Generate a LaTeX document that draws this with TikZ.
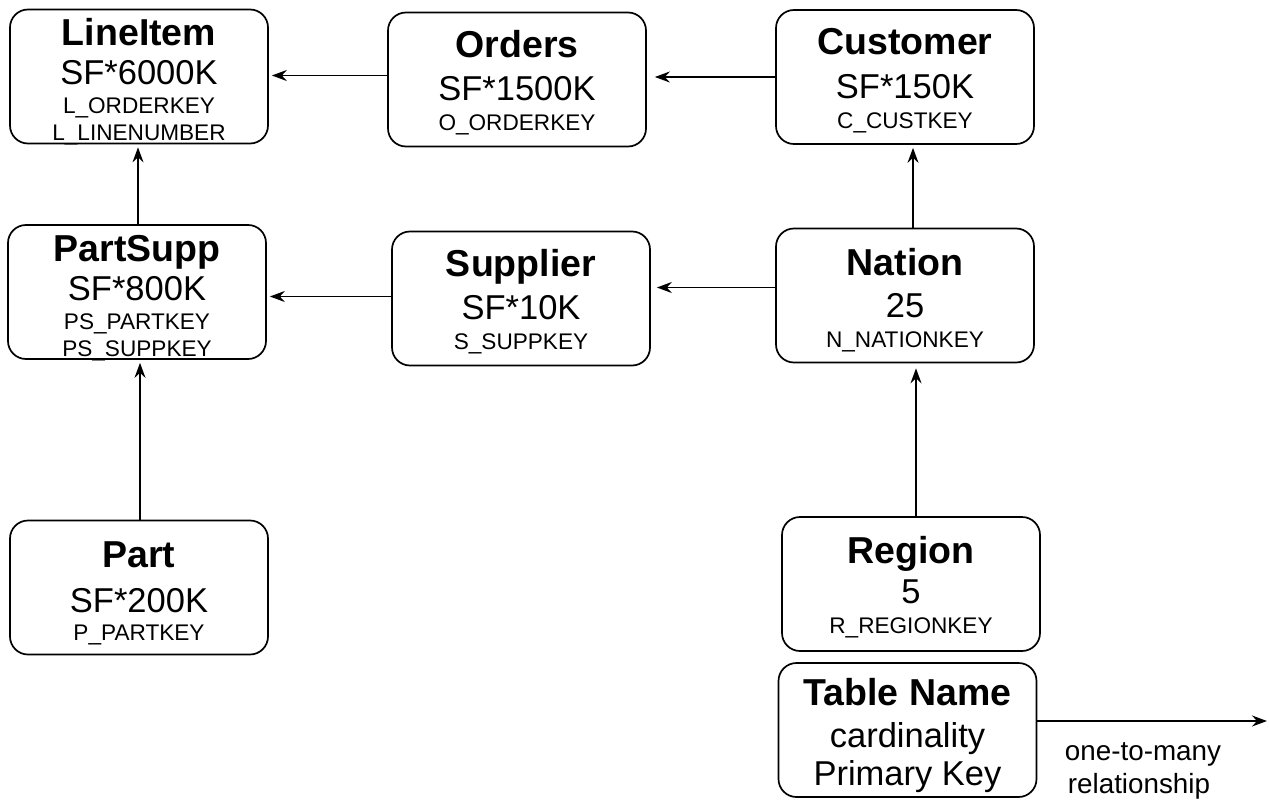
\documentclass[tikz,border=0pt]{standalone}
\usepackage{fontspec}
\setmainfont{Liberation Sans}
\usetikzlibrary{arrows.meta}

\begin{document}
\begin{tikzpicture}[x=1pt,y=-1pt,
	tbl/.style={draw, line width=1.7pt, rounded corners=18pt, minimum width=258pt, minimum height=134pt, inner sep=0pt},
	ttl/.style={anchor=base, inner sep=0pt, font=\fontsize{37.5}{42}\selectfont\bfseries},
	card/.style={anchor=base, inner sep=0pt, font=\fontsize{34.5}{39}\selectfont},
	pk/.style={anchor=base, inner sep=0pt, font=\fontsize{22.6}{26}\selectfont},
	note/.style={anchor=base, inner sep=0pt, font=\fontsize{27.8}{32}\selectfont},
	rel/.style={-{Stealth[length=15pt,width=11pt,inset=5pt]}, line width=1.8pt, shorten >=3pt}]
	\useasboundingbox (0,0) rectangle (1269,800);
	
	%Shape: Tables
	\node[tbl] (lineitem) at (139,76.5) {};
	\node[tbl] (orders) at (517,79.5) {};
	\node[tbl] (customer) at (905,77) {};
	\node[tbl] (partsupp) at (137,292) {};
	\node[tbl] (supplier) at (521,298.5) {};
	\node[tbl] (nation) at (905,295.5) {};
	\node[tbl] (part) at (139,587.5) {};
	\node[tbl] (region) at (911,584) {};
	\node[tbl] (legend) at (907.5,730) {};
	
	% Text Node
	\node[ttl, yshift=31pt] (lineitem-t) at (lineitem) {LineItem};
	\node[card, yshift=-8pt] (lineitem-c) at (lineitem) {SF*6000K};
	\node[pk, yshift=-37pt] (lineitem-k1) at (lineitem) {L\_ORDERKEY};
	\node[pk, yshift=-64pt] (lineitem-k2) at (lineitem) {L\_LINENUMBER};
	% Text Node
	\node[ttl, yshift=22pt] (orders-t) at (orders) {Orders};
	\node[card, yshift=-20.5pt] (orders-c) at (orders) {SF*1500K};
	\node[pk, yshift=-50.5pt] (orders-k) at (orders) {O\_ORDERKEY};
	% Text Node
	\node[ttl, yshift=22pt] (customer-t) at (customer) {Customer};
	\node[card, yshift=-21pt] (customer-c) at (customer) {SF*150K};
	\node[pk, yshift=-51pt] (customer-k) at (customer) {C\_CUSTKEY};
	% Text Node
	\node[ttl, yshift=31pt] (partsupp-t) at (partsupp) {PartSupp};
	\node[card, yshift=-8pt] (partsupp-c) at (partsupp) {SF*800K};
	\node[pk, yshift=-37pt] (partsupp-k1) at (partsupp) {PS\_PARTKEY};
	\node[pk, yshift=-64pt] (partsupp-k2) at (partsupp) {PS\_SUPPKEY};
	% Text Node
	\node[ttl, yshift=22pt] (supplier-t) at (supplier) {Supplier};
	\node[card, yshift=-21pt] (supplier-c) at (supplier) {SF*10K};
	\node[pk, yshift=-51pt] (supplier-k) at (supplier) {S\_SUPPKEY};
	% Text Node
	\node[ttl, yshift=20.5pt] (nation-t) at (nation) {Nation};
	\node[card, yshift=-21.5pt] (nation-c) at (nation) {25};
	\node[pk, yshift=-51.5pt] (nation-k) at (nation) {N\_NATIONKEY};
	% Text Node
	\node[ttl, yshift=20.5pt] (part-t) at (part) {Part};
	\node[card, yshift=-24.5pt] (part-c) at (part) {SF*200K};
	\node[pk, yshift=-52.5pt] (part-k) at (part) {P\_PARTKEY};
	% Text Node
	\node[ttl, yshift=21pt] (region-t) at (region) {Region};
	\node[card, yshift=-19pt] (region-c) at (region) {5};
	\node[pk, yshift=-49pt] (region-k) at (region) {R\_REGIONKEY};
	% Text Node
	\node[ttl, yshift=25pt] (legend-t) at (legend) {Table Name};
	\node[card, yshift=-17pt] (legend-c) at (legend) {cardinality};
	\node[card, yshift=-55pt] (legend-k) at (legend) {Primary Key};
	
	%Straight Lines
	\draw[rel] ([yshift=4pt]orders.west) -- ([yshift=4pt]orders.west -| lineitem.east);
	\draw[rel, shorten >=8pt] (customer.west) -- (customer.west -| orders.east);
	\draw[rel] ([yshift=2pt]supplier.west) -- ([yshift=2pt]supplier.west -| partsupp.east);
	\draw[rel, shorten >=6pt] ([yshift=8pt]nation.west) -- ([yshift=8pt]nation.west -| supplier.east);
	\draw[rel] ([xshift=1pt]partsupp.north) -- ([xshift=1pt]partsupp.north |- lineitem.south);
	\draw[rel] ([xshift=8pt]nation.north) -- ([xshift=8pt]nation.north |- customer.south);
	\draw[rel] ([xshift=1pt]part.north) -- ([xshift=1pt]part.north |- partsupp.south);
	\draw[rel, shorten >=5pt] ([xshift=5pt]region.north) -- ([xshift=5pt]region.north |- nation.south);
	
	%Legend
	\coordinate (legend-end) at (1267,721);
	\draw[rel, shorten >=0pt] (legend.east |- legend-end) -- (legend-end);
	\node[note] (legend-n1) at (1143,760) {one-to-many};
	\node[note] (legend-n2) at (1139,793) {relationship};
	
\end{tikzpicture}
\end{document}
